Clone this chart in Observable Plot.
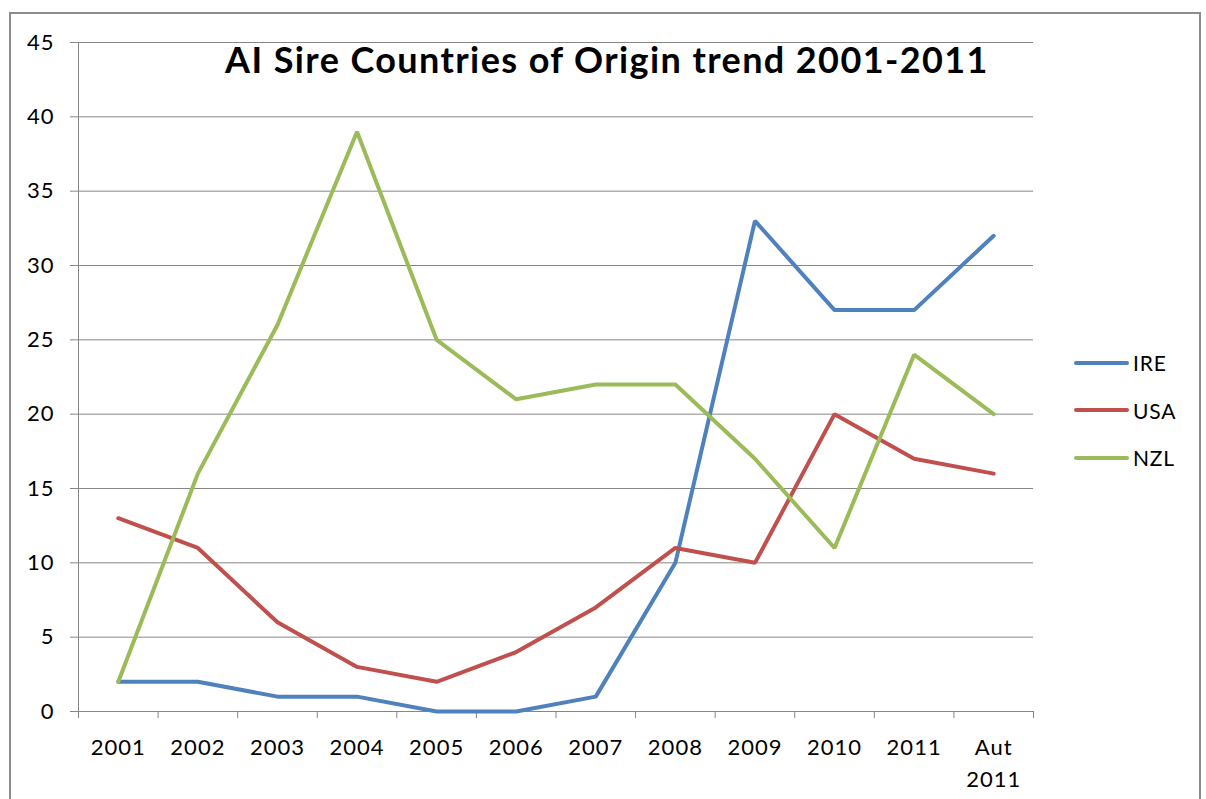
<!DOCTYPE html>
<html>
<head>
<meta charset="utf-8">
<script src="https://cdn.jsdelivr.net/npm/d3@7"></script>
<script src="https://cdn.jsdelivr.net/npm/@observablehq/plot@0.6"></script>
<style>
  html, body { margin: 0; padding: 0; background: #fff; }
  #wrap { position: relative; width: 1206px; height: 799px; overflow: hidden; font-family: Lato, "Open Sans", sans-serif; }
  #border { position: absolute; left: 9px; top: 12px; width: 1192px; height: 820px; border: 2px solid #8c8c8c; box-sizing: border-box; }
  #chart { position: absolute; left: 0; top: 0; }
  #legend { position: absolute; left: 1074px; top: 339px; }
  .item { display: flex; align-items: center; height: 47.5px; font-size: 21px; letter-spacing: 0.8px; color: #000; }
  .sw { width: 55px; height: 4px; border-radius: 2px; margin-right: 4px; }
</style>
</head>
<body>
<div id="wrap">
  <div id="border"></div>
  <div id="chart"></div>
  <div id="legend"></div>
</div>
<script>
const categories = ["2001","2002","2003","2004","2005","2006","2007","2008","2009","2010","2011","Aut\n2011"];
const seriesNames = ["IRE","USA","NZL"];
const IRE = [2,2,1,1,0,0,1,10,33,27,27,32];
const USA = [13,11,6,3,2,4,7,11,10,20,17,16];
const NZL = [2,16,26,39,25,21,22,22,17,11,24,20];
const colors = ["#4F81BD","#C0504D","#9BBB59"];
const yTicks = [0,5,10,15,20,25,30,35,40,45];
const title = "AI Sire Countries of Origin trend 2001-2011";

const seriesValues = [IRE, USA, NZL];
const data = [];
seriesNames.forEach((s, si) => seriesValues[si].forEach((v, i) => data.push({series: s, i, v})));
const idx = categories.map((c, i) => i);
const bounds = d3.range(-0.5, categories.length, 1);

const chart = Plot.plot({
  width: 1206,
  height: 799,
  marginLeft: 78,
  marginRight: 173,
  marginTop: 42,
  marginBottom: 88,
  style: {fontFamily: "Lato, 'Open Sans', sans-serif", fontSize: "21px", color: "#000", background: "transparent"},
  x: {type: "linear", domain: [-0.5, categories.length - 0.5]},
  y: {domain: [0, 45]},
  color: {domain: seriesNames, range: colors},
  marks: [
    Plot.gridY(yTicks, {stroke: "#868686", strokeOpacity: 1, strokeWidth: 1}),
    Plot.axisY(yTicks, {tickSize: 8, tickPadding: 16, stroke: "#868686", fontSize: 22, label: null}),
    Plot.ruleX([-0.5], {stroke: "#868686", strokeWidth: 1}),
    Plot.axisX(bounds, {tickSize: 7, tickFormat: () => "", stroke: "#868686", label: null}),
    Plot.text(idx, {x: d => d, frameAnchor: "bottom", text: i => categories[i], lineAnchor: "top", dy: 21, fontSize: 22, lineHeight: 1.45, fill: "#000"}),
    Plot.line(data, {x: "i", y: "v", z: "series", stroke: "series", strokeWidth: 4, strokeLinejoin: "miter", strokeLinecap: "round"}),
    Plot.text([title], {frameAnchor: "top", text: d => d, dx: 51, dy: 30, lineAnchor: "bottom", fontSize: 36, fontWeight: "bold", fill: "#000"})
  ]
});
document.getElementById("chart").appendChild(chart);
d3.select(chart).selectAll("text").style("letter-spacing", "1px");
d3.select(chart).selectAll("text").filter(function() { return this.textContent === title; }).style("letter-spacing", "1.4px");

const legend = document.getElementById("legend");
seriesNames.forEach((s, i) => {
  const row = document.createElement("div");
  row.className = "item";
  const sw = document.createElement("span");
  sw.className = "sw";
  sw.style.background = colors[i];
  row.appendChild(sw);
  row.appendChild(document.createTextNode(s));
  legend.appendChild(row);
});
</script>
</body>
</html>
